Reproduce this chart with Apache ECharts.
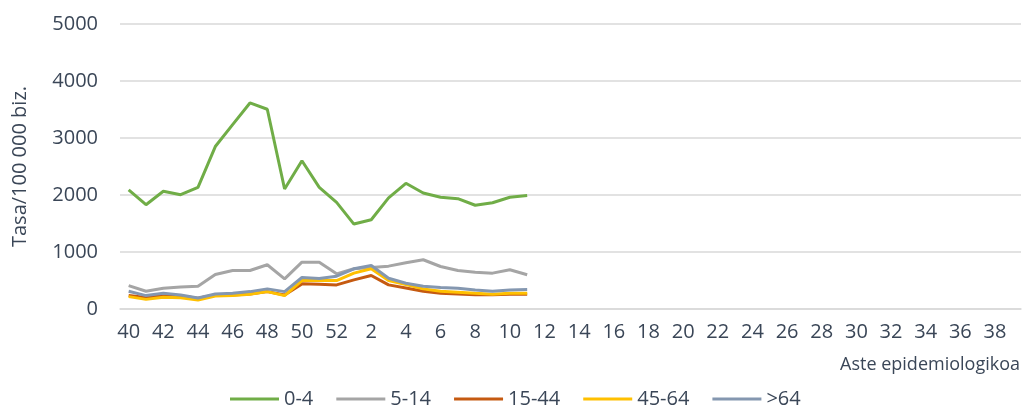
<!DOCTYPE html>
<html>
<head>
<meta charset="utf-8">
<script src="https://cdn.jsdelivr.net/npm/echarts@6/dist/echarts.min.js"></script>
<style>
html,body{margin:0;padding:0;background:#fff;}
#chart{width:1022px;height:411px;}
</style>
</head>
<body>
<div id="chart"></div>
<script>
var weeks = ['40','41','42','43','44','45','46','47','48','49','50','51','52',
  '1','2','3','4','5','6','7','8','9','10','11','12','13','14','15','16','17','18','19','20',
  '21','22','23','24','25','26','27','28','29','30','31','32','33','34','35','36','37','38','39'];
var yTicks = {min: 0, max: 5000, interval: 1000};
var seriesNames = ['0-4', '5-14', '15-44', '45-64', '>64'];
var age0_4   = [2090,1830,2065,2005,2135,2850,3235,3615,3505,2105,2600,2135,1870,1490,1565,1950,2205,2035,1960,1935,1820,1865,1960,1990];
var age5_14  = [411,311,364,388,399,605,675,675,776,529,822,822,617,705,730,752,811,864,746,676,646,629,688,600];
var age15_44 = [235,200,247,229,188,247,247,264,305,247,441,435,423,511,587,423,370,311,275,264,252,252,258,258];
var age45_64 = [217,169,205,199,159,229,235,258,305,235,499,499,499,629,705,499,429,353,311,293,275,258,275,275];
var age64    = [311,235,275,247,194,264,275,305,353,305,552,534,575,705,764,540,452,399,376,364,335,311,335,340];

var colors = ['#70ad47', '#a5a5a5', '#c55a11', '#ffc000', '#8497b0'];
var values = [age0_4, age5_14, age15_44, age45_64, age64];
var textColor = '#3a4657';
var font = 'Open Sans';

var chart = echarts.init(document.getElementById('chart'), null, {renderer: 'canvas'});
chart.setOption({
  animation: false,
  color: colors,
  title: {
    text: 'Aste epidemiologikoa',
    right: 2,
    top: 356,
    padding: 0,
    textStyle: {fontFamily: font, fontSize: 18, fontWeight: 'normal', color: textColor}
  },
  grid: {left: 120, right: 1, top: 24, bottom: 102, containLabel: false},
  legend: {
    left: 230,
    top: 389,
    padding: 0,
    icon: 'rect',
    itemWidth: 49,
    itemHeight: 3,
    itemGap: 23,
    data: seriesNames,
    textStyle: {fontFamily: font, fontSize: 20, color: textColor}
  },
  xAxis: {
    type: 'category',
    data: weeks,
    boundaryGap: true,
    axisLine: {lineStyle: {color: '#d9d9d9', width: 1.5}},
    axisTick: {show: false},
    axisLabel: {interval: 1, fontFamily: font, fontSize: 20, color: textColor, margin: 13}
  },
  yAxis: {
    type: 'value',
    min: yTicks.min,
    max: yTicks.max,
    interval: yTicks.interval,
    name: 'Tasa/100 000 biz.',
    nameLocation: 'middle',
    nameGap: 90,
    nameTextStyle: {fontFamily: font, fontSize: 20, color: textColor},
    axisLine: {show: false},
    axisTick: {show: false},
    splitLine: {lineStyle: {color: '#d9d9d9', width: 1.5}},
    axisLabel: {
      fontFamily: font, fontSize: 20, color: textColor, margin: 22,
      formatter: function (v) { return String(v); }
    }
  },
  series: seriesNames.map(function (n, i) {
    return {
      name: n,
      type: 'line',
      data: values[i],
      symbol: 'none',
      lineStyle: {width: 3, color: colors[i]},
      itemStyle: {color: colors[i]}
    };
  })
});
</script>
</body>
</html>
